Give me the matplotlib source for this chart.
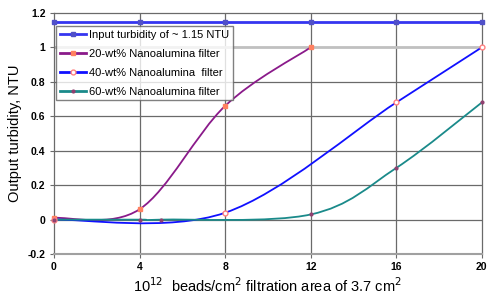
import matplotlib.pyplot as plt
from matplotlib.path import Path
from matplotlib.patches import PathPatch
from matplotlib.lines import Line2D
import numpy as np

plt.rcParams['font.family'] = ['Liberation Sans', 'DejaVu Sans']

# data
input_x = [0, 4, 8, 12, 16, 20]
input_y = [1.15, 1.15, 1.15, 1.15, 1.15, 1.15]

wt20_x = [0, 4, 8, 12]
wt20_y = [0.01, 0.06, 0.66, 1.0]

wt40_x = [0, 8, 16, 20]
wt40_y = [0.0, 0.04, 0.68, 1.0]

wt60_x = [0, 4, 5, 12, 16, 20]
wt60_y = [0.0, 0.0, 0.0, 0.03, 0.30, 0.68]

labels = ['Input turbidity of ~ 1.15 NTU',
          '20-wt% Nanoalumina filter',
          '40-wt% Nanoalumina  filter',
          '60-wt% Nanoalumina filter']


# Excel style smoothed line: cubic bezier through the points
def smooth_path(xs, ys):
    p = np.column_stack([xs, ys]).astype(float)
    n = len(p)
    verts = [p[0]]
    codes = [Path.MOVETO]
    for i in range(n - 1):
        p0 = p[i - 1] if i > 0 else p[i]
        p1 = p[i]
        p2 = p[i + 1]
        p3 = p[i + 2] if i + 2 < n else p[i + 1]
        c1 = p1 + (p2 - p0) / 6.0
        c2 = p2 - (p3 - p1) / 6.0
        verts += [c1, c2, p2]
        codes += [Path.CURVE4] * 3
    return Path(verts, codes)


fig = plt.figure(figsize=(5.04, 3.0), dpi=100)
ax = fig.add_axes([0.107, 0.153, 0.849, 0.804])

ax.set_xlim(0, 20)
ax.set_ylim(-0.2, 1.2)
ax.set_xticks([0, 4, 8, 12, 16, 20])
ax.set_yticks([-0.2, 0, 0.2, 0.4, 0.6, 0.8, 1.0, 1.2])
ax.set_yticklabels(['-0.2', '0', '0.2', '0.4', '0.6', '0.8', '1', '1.2'])

# grid
for gx in [4, 8, 12, 16]:
    ax.axvline(gx, color='#6a6a6a', lw=0.9, zorder=0)
for gy in [0, 0.2, 0.4, 0.6, 0.8]:
    ax.axhline(gy, color='#6a6a6a', lw=0.9, zorder=0)
ax.axhline(1.0, color='#c0c0c0', lw=2.0, zorder=0)

for s in ax.spines.values():
    s.set_color('#6a6a6a')
    s.set_linewidth(0.9)
ax.spines['bottom'].set_color('#a0a0a0')
ax.spines['bottom'].set_linewidth(1.5)

ax.tick_params(axis='both', labelsize=7.5, length=3, color='#6a6a6a', pad=3)
for t in ax.get_xticklabels() + ax.get_yticklabels():
    t.set_fontweight('bold')

# input line
ax.plot(input_x, input_y, color='#3535f0', lw=2.0, marker='s', ms=3.5,
        mfc='#5050c8', mec='#5050c8', zorder=4, clip_on=False)

series = [
    (wt20_x, wt20_y, '#8a1a8a', dict(marker='s', ms=2.5, mfc='#ff8060', mec='#ff8060')),
    (wt40_x, wt40_y, '#1010ff', dict(marker='o', ms=3.5, mfc='white', mec='#ff8080')),
    (wt60_x, wt60_y, '#1a8a8a', dict(marker='o', ms=2.0, mfc='#904070', mec='#904070')),
]
handles = [Line2D([], [], color='#3535f0', lw=2.0, marker='s', ms=3.5,
                  mfc='#5050c8', mec='#5050c8')]
for xs, ys, col, mk in series:
    patch = PathPatch(smooth_path(xs, ys), fill=False, edgecolor=col, lw=1.3, zorder=3)
    ax.add_patch(patch)
    ax.plot(xs, ys, ls='none', zorder=5, clip_on=False, **mk)
    handles.append(Line2D([], [], color=col, lw=2.0, **mk))

leg = ax.legend(handles, labels, loc='upper left', bbox_to_anchor=(0.0, 0.955),
                fontsize=8.0, frameon=True, fancybox=False, edgecolor='#606060',
                handlelength=2.3, handletextpad=0.3, borderpad=0.35,
                labelspacing=0.8, borderaxespad=0.2)
leg.get_frame().set_linewidth(1.0)

ax.set_ylabel('Output turbidity, NTU', fontsize=10.5)
ax.yaxis.set_label_coords(-0.075, 0.5)
ax.set_xlabel('10$^{12}$  beads/cm$^{2}$ filtration area of 3.7 cm$^{2}$',
              fontsize=10.5, labelpad=3)

fig.savefig('out.png', dpi=100)
